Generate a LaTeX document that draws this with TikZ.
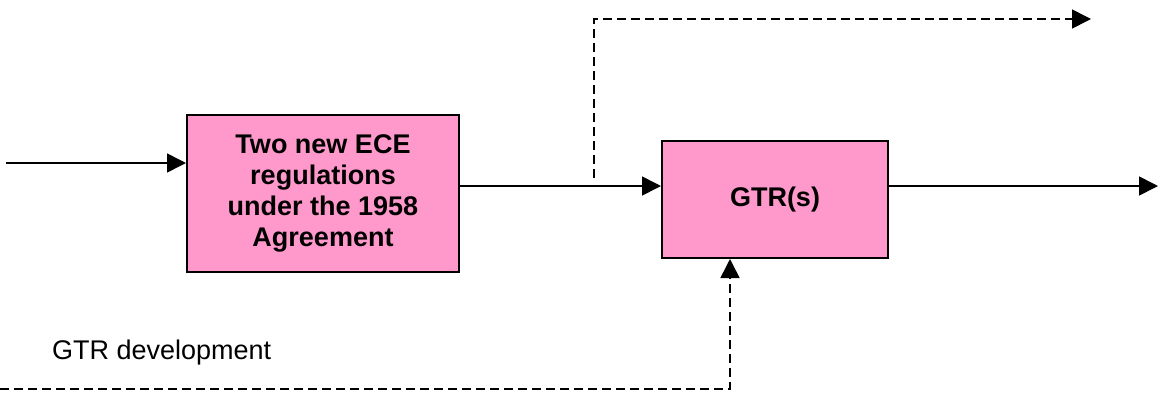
\documentclass[tikz,border=0pt]{standalone}
\usepackage{fontspec}
\setmainfont{Liberation Sans}
\usetikzlibrary{arrows.meta}
\definecolor{boxpink}{HTML}{FF99CC}
\tikzset{
  procbox/.style={draw=black, line width=2pt, fill=boxpink, inner sep=0pt, align=center,
    font=\fontsize{27}{31}\selectfont\bfseries},
  flow/.style={line width=1.6pt, -{Triangle[length=19pt,width=19pt]}},
  dflow/.style={flow, dash pattern=on 9pt off 5pt},
}
\begin{document}
\begin{tikzpicture}[x=1pt,y=-1pt]
\useasboundingbox (0,0) rectangle (1160,392);
\node[procbox, minimum width=272pt, minimum height=157pt] (reg) at (323,193.5)
  {Two new ECE\\regulations\\under the 1958\\Agreement};
\node[procbox, minimum width=226pt, minimum height=117pt] (gtr) at (775,199.5) {GTR(s)};
\coordinate (inA) at (6,163);
\coordinate (outA) at (1158,186);
\coordinate (tapA) at (594,178);
\coordinate (tapB) at (594,19);
\coordinate (tapC) at (1091,19);
\coordinate (devA) at (0,389);
\coordinate (devB) at (730,389);
\node[anchor=base west, inner sep=0pt, font=\fontsize{27}{31}\selectfont] (dev) at (52,359) {GTR development};
\draw[flow] (inA) -- (inA -| reg.west);
\draw[flow] (reg.east |- outA) -- (gtr.west |- outA);
\draw[flow] (gtr.east |- outA) -- (outA);
\draw[dflow] (tapA) -- (tapB) -- (tapC);
\draw[dflow] (devA) -- (devB) -- (devB |- gtr.south);
\end{tikzpicture}
\end{document}
